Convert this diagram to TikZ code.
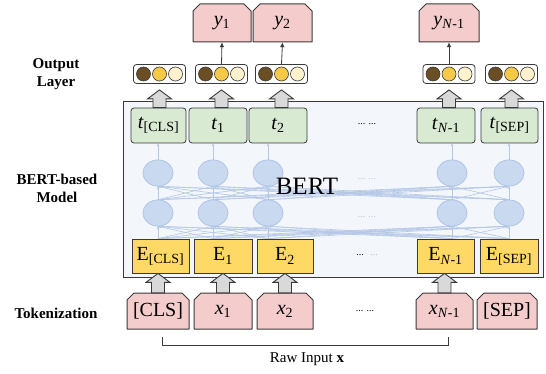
\documentclass[tikz,border=0pt]{standalone}
\usepackage{fontspec}
\setmainfont{Liberation Serif}
\usetikzlibrary{arrows.meta,calc,shapes.geometric}
\definecolor{pinkf}{HTML}{F4CCCC}
\definecolor{greenf}{HTML}{D9EAD3}
\definecolor{yellowf}{HTML}{FFD966}
\definecolor{bertf}{HTML}{F3F6FB}
\definecolor{circf}{HTML}{C9DAF0}
\definecolor{circd}{HTML}{AFC4E6}
\definecolor{linkc}{HTML}{B4C7E7}
\definecolor{edgec}{HTML}{3A3A3A}
\definecolor{brownc}{HTML}{6B4E23}
\definecolor{goldc}{HTML}{F7C948}
\definecolor{creamc}{HTML}{FFF2CC}
\definecolor{arrowf}{HTML}{D9D9D9}
\newcommand\chbox[6]{%
  \path[chamf] (#2-#4/2,#3+#5/2) -- (#2-#4/2,#3-#5/2+7) -- (#2-#4/2+7,#3-#5/2) -- (#2+#4/2-7,#3-#5/2) -- (#2+#4/2,#3-#5/2+7) -- (#2+#4/2,#3+#5/2) -- cycle;
  \node[inner sep=0pt,minimum width=#4,minimum height=#5,boxtext] (#1) at (#2,#3) {#6};}
\newcommand\blockup[2]{\draw[blockarr] let \p1=#1, \p2=#2 in (\x1-6.5pt,\y1) -- (\x1-6.5pt,\y2-9pt) -- (\x1-12pt,\y2-9pt) -- (\x1,\y2) -- (\x1+12pt,\y2-9pt) -- (\x1+6.5pt,\y2-9pt) -- (\x1+6.5pt,\y1) -- cycle;}
\tikzset{
  boxtext/.style={font=\fontsize{20}{23}\selectfont},
  chamf/.style={fill=pinkf,draw=edgec,line width=1pt,line join=round},
  bertbox/.style={draw=edgec,fill=bertf,line width=1.4pt,inner sep=0pt},
  tbox/.style={draw=edgec,fill=greenf,rounded corners=3pt,line width=0.8pt,inner sep=0pt,boxtext},
  ebox/.style={draw=edgec,fill=yellowf,line width=0.8pt,inner sep=0pt,boxtext},
  neuron/.style={ellipse,draw=circd,fill=circf,line width=0.6pt,minimum width=30,minimum height=26,inner sep=0pt},
  link/.style={draw=linkc,line width=0.6pt,-{Stealth[length=3pt,width=2.6pt]}},
  vecbox/.style={draw=edgec,fill=white,rounded corners=3pt,line width=0.8pt,minimum width=52,minimum height=19,inner sep=0pt},
  vdot/.style={circle,draw=edgec,line width=0.6pt,minimum size=14,inner sep=0pt},
  thinarr/.style={draw=edgec,line width=0.8pt,-{Latex[length=5pt,width=4.5pt]}},
  blockarr/.style={draw=edgec,fill=arrowf,line width=0.9pt,line join=miter},
  lab/.style={font=\fontsize{15}{18}\selectfont\bfseries,align=center},
  dotsb/.style={font=\fontsize{10}{12}\selectfont},
  dotsl/.style={font=\fontsize{10}{12}\selectfont,text=linkc},
}
\begin{document}
\begin{tikzpicture}[x=1pt,y=-1pt]
\useasboundingbox (0,0) rectangle (546,374);
% left labels
\node[lab] (labout) at (56,74) {Output\\Layer};
\node[lab] (labbert) at (57,188) {BERT-based\\Model};
\node[lab] (labtok) at (56,313) {Tokenization};
% BERT box
\node[bertbox,minimum width=420,minimum height=176,anchor=north west] (bert) at (123,101) {};
% neurons
\foreach \i/\x in {0/158,1/213,2/268,3/452,4/509}{
  \node[neuron] (c\i) at (\x,213) {};
  \node[neuron] (d\i) at (\x,173) {};
}
% E boxes
\node[ebox,minimum width=57,minimum height=34] (E0) at (160.5,256) {E\textsubscript{[CLS]}};
\node[ebox,minimum width=58,minimum height=34] (E1) at (223,256) {E\textsubscript{1}};
\node[ebox,minimum width=56,minimum height=34] (E2) at (285,256) {E\textsubscript{2}};
\node[ebox,minimum width=57,minimum height=34] (E3) at (445.5,256) {E\textsubscript{\textit{N}-1}};
\node[ebox,minimum width=58,minimum height=34] (E4) at (509,256) {E\textsubscript{[SEP]}};
% t boxes
\node[tbox,minimum width=55,minimum height=35] (t0) at (158.5,125.5) {\textit{t}\textsubscript{[CLS]}};
\node[tbox,minimum width=58,minimum height=35] (t1) at (218,125.5) {\textit{t}\textsubscript{1}};
\node[tbox,minimum width=58,minimum height=35] (t2) at (278,125.5) {\textit{t}\textsubscript{2}};
\node[tbox,minimum width=58,minimum height=35] (t3) at (446,125.5) {\textit{t}\textsubscript{\textit{N}-1}};
\node[tbox,minimum width=57,minimum height=35] (t4) at (509.5,125.5) {\textit{t}\textsubscript{[SEP]}};
% links
\foreach \i in {0,...,4}{
  \foreach \j in {0,...,4}{
    \draw[link] (c\i |- E\i.north) -- (c\j.south);
    \draw[link] (c\i.north) -- (d\j.south);
  }
  \draw[link] (d\i.north) -- (d\i |- t\i.south);
}
% redraw neurons on top of links
\foreach \i/\x in {0/158,1/213,2/268,3/452,4/509}{
  \node[neuron] at (\x,213) {};
  \node[neuron] at (\x,173) {};
}
\node[font=\fontsize{25}{28}\selectfont] (berttxt) at (307,186) {BERT};
% dots
\node[dotsb] (dt) at (367,124) {... ...};
\node[dotsl] (dd) at (367,179) {... ...};
\node[dotsl] (dc) at (367,217) {... ...};
\node[dotsb] (de) at (360,255) {...};
\node[dotsl] (de2) at (374,255) {...};
\node[dotsb] (dx) at (365,311) {... ...};
% output vectors
\foreach \i/\x in {0/159.5,1/221.5,2/281.5,3/449,4/511.5}{
  \node[vecbox] (v\i) at (\x,74) {};
  \node[vdot,fill=brownc] (v\i a) at ($(v\i)+(-16,0)$) {};
  \node[vdot,fill=goldc] (v\i b) at (v\i) {};
  \node[vdot,fill=creamc] (v\i c) at ($(v\i)+(16,0)$) {};
  \blockup{(v\i |- t\i.north)}{($(v\i.south)+(0,6)$)}
}
% output boxes
\chbox{y1}{222}{23}{58}{38}{\textit{y}\textsubscript{1}}
\chbox{y2}{282.5}{23}{59}{38}{\textit{y}\textsubscript{2}}
\chbox{y3}{449}{23}{60}{38}{\textit{y}\textsubscript{\textit{N}-1}}
\draw[thinarr] (v1.north) -- (y1.south);
\draw[thinarr] (v2.north) -- (y2.south);
\draw[thinarr] (v3.north) -- (y3.south);
% input boxes
\chbox{in0}{158}{311}{62}{36}{[CLS]}
\chbox{in1}{223}{311}{58}{36}{\textit{x}\textsubscript{1}}
\chbox{in2}{285}{311}{56}{36}{\textit{x}\textsubscript{2}}
\chbox{in3}{444.5}{311}{57}{36}{\textit{x}\textsubscript{\textit{N}-1}}
\chbox{in4}{507}{311}{60}{36}{[SEP]}
\foreach \i in {0,1,2,3}{
  \blockup{(in\i.north)}{(in\i |- E\i.south)}
}
% bracket
\coordinate (bl) at ($(in0.south)+(4,8)$);
\coordinate (br) at ($(in3.south)+(4,8)$);
\draw[edgec,line width=0.9pt] (bl) -- ++(0,8) -| (br);
\node[font=\fontsize{15}{18}\selectfont] (raw) at (307,359) {Raw Input \textbf{x}};
\end{tikzpicture}
\end{document}
